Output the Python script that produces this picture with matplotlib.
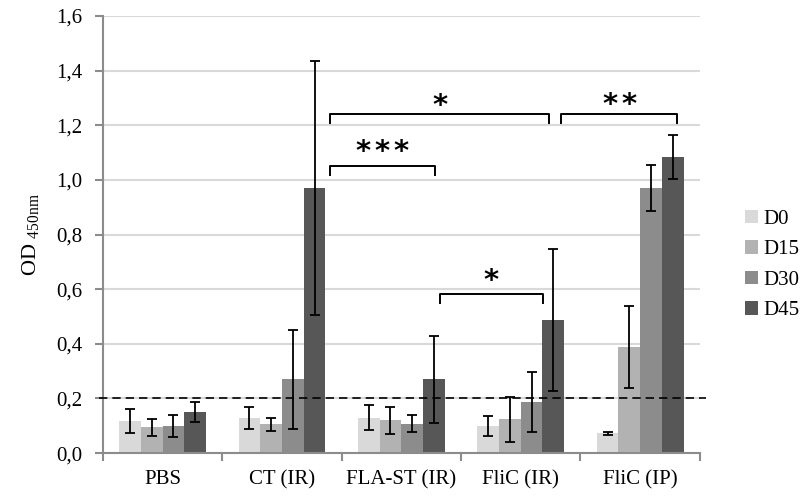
import numpy as np
import matplotlib
matplotlib.use("Agg")
import matplotlib.pyplot as plt

plt.rcParams['font.family'] = ['Liberation Serif', 'DejaVu Serif']
plt.rcParams['mathtext.fontset'] = 'custom'
plt.rcParams['mathtext.rm'] = 'Liberation Serif'

groups = ["PBS", "CT (IR)", "FLA-ST (IR)", "FliC (IR)", "FliC (IP)"]
days = ["D0", "D15", "D30", "D45"]
colors = ["#d9d9d9", "#b2b2b2", "#8c8c8c", "#575757"]

# mean OD per group, one list per day
d0 = [0.117, 0.127, 0.130, 0.100, 0.072]
d15 = [0.094, 0.105, 0.120, 0.123, 0.390]
d30 = [0.100, 0.270, 0.108, 0.188, 0.970]
d45 = [0.151, 0.970, 0.270, 0.487, 1.085]
# error bars
e0 = [0.043, 0.040, 0.045, 0.037, 0.007]
e15 = [0.030, 0.025, 0.050, 0.084, 0.150]
e30 = [0.040, 0.180, 0.031, 0.110, 0.083]
e45 = [0.036, 0.465, 0.160, 0.260, 0.080]

# significance brackets: (x start, x end, y top, star y, label)
brackets = [(1.40, 2.28, 1.051, 1.121, "***"),
            (1.40, 3.24, 1.242, 1.289, "*"),
            (3.34, 4.31, 1.242, 1.293, "**"),
            (2.32, 3.185, 0.582, 0.652, "*")]

means = [d0, d15, d30, d45]
errs = [e0, e15, e30, e45]

fig = plt.figure(figsize=(8.1, 4.99), dpi=100)
ax = fig.add_axes([0.127, 0.092, 0.737, 0.876])

x = np.arange(len(groups))
w = 0.182
for i in range(4):
    pos = x + (i - 1.5) * w
    ax.bar(pos, means[i], w, color=colors[i], label=days[i], zorder=2)
    ax.errorbar(pos, means[i], yerr=errs[i], fmt='none', ecolor='black',
                elinewidth=1.3, capsize=3.5, capthick=1.3, zorder=3)

ax.plot([-0.53, 4.55], [0.2, 0.2], color='black', ls='--', lw=1.2,
        dashes=(5, 3), clip_on=False, zorder=4)

for x1, x2, y, ys, lab in brackets:
    ax.plot([x1, x1, x2, x2], [y - 0.032, y, y, y - 0.032], color='black',
            lw=1.4, zorder=4)
    n = len(lab)
    for k in range(n):
        off = (k - (n - 1) / 2) * 13.5
        ax.annotate("*", ((x1 + x2) / 2, ys), xytext=(off, -4),
                    textcoords='offset points', ha='center', va='center',
                    fontsize=21, fontweight='bold', family=['DejaVu Sans'])

ax.set_xlim(-0.5, 4.5)
ax.set_ylim(0, 1.6)
ax.set_yticks(np.arange(0, 1.61, 0.2))
ax.set_yticklabels([f"{v:.1f}".replace('.', ',') for v in np.arange(0, 1.61, 0.2)],
                   fontsize=15)
ax.yaxis.grid(True, color='#d9d9d9', lw=1.5, zorder=0)
ax.set_axisbelow(True)

ax.set_xticks(x)
ax.set_xticklabels(groups, fontsize=15)
ax.tick_params(axis='x', length=0, pad=12)
ax.set_xticks(np.arange(-0.5, 4.6, 1), minor=True)
ax.tick_params(axis='x', which='minor', length=6, width=1.5, color='#8c8c8c')
ax.tick_params(axis='y', length=6, width=1.5, color='#8c8c8c', pad=9)

for s in ['top', 'right']:
    ax.spines[s].set_visible(False)
for s in ['left', 'bottom']:
    ax.spines[s].set_color('#8c8c8c')
    ax.spines[s].set_linewidth(1.5)

ax.set_ylabel(r'OD $_{\rm 450nm}$', fontsize=16, labelpad=10)

ax.legend(loc='center left', bbox_to_anchor=(1.045, 0.43), frameon=False,
          fontsize=15, handlelength=0.6, handleheight=0.6, labelspacing=0.55,
          handletextpad=0.25)

fig.savefig("out.png", dpi=100)
